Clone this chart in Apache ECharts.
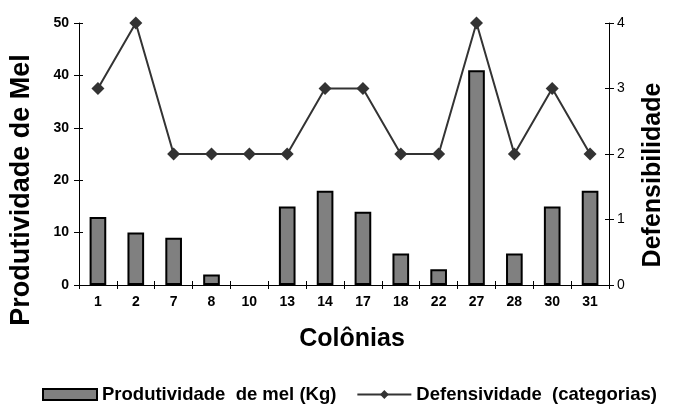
<!DOCTYPE html>
<html><head><meta charset="utf-8">
<script src="https://cdn.jsdelivr.net/npm/echarts@6/dist/echarts.min.js"></script>
<style>html,body{margin:0;padding:0;background:#fff}#c{width:674px;height:406px}</style>
</head><body><div id="c"></div>
<script>
const colonias = ['1','2','7','8','10','13','14','17','18','22','27','28','30','31'];
const produtividade = [13,10,9,2,0,15,18,14,6,3,41,6,15,18];
const defensividade = [3,4,2,2,2,2,3,3,2,2,4,2,3,2];

const chart = echarts.init(document.getElementById('c'));
const fam = '"Liberation Sans", Arial, sans-serif';
const tickOnly = (extra) => Object.assign({
  axisLine: {show: false}, axisLabel: {show: false}, splitLine: {show: false},
  axisTick: {show: true, inside: true, length: 4, lineStyle: {color: '#000'}}
}, extra);
chart.setOption({
  animation: false,
  textStyle: {fontFamily: fam},
  grid: {left: 78, right: 56, top: 23, bottom: 121},
  legend: {
    bottom: 2, left: 42, width: 640, padding: 0, itemGap: 20, itemWidth: 54, itemHeight: 11,
    textStyle: {fontFamily: fam, fontWeight: 'bold', fontSize: 18.5, color: '#000'},
    data: [
      {name: 'Produtividade  de mel (Kg)', icon: 'rect'},
      {name: 'Defensividade  (categorias)'}
    ]
  },
  xAxis: [
    {
      type: 'category', data: colonias,
      name: 'Colônias', nameLocation: 'middle', nameGap: 42,
      nameTextStyle: {fontSize: 25, fontWeight: 'bold', color: '#000', fontFamily: fam, padding: [0, 0, 0, 16]},
      axisLine: {lineStyle: {color: '#000', width: 1}},
      axisTick: {show: true, inside: false, length: 4, lineStyle: {color: '#000'}},
      axisLabel: {color: '#000', fontWeight: 'bold', fontSize: 14, margin: 10, fontFamily: fam}
    },
    tickOnly({type: 'category', data: colonias, position: 'bottom'})
  ],
  yAxis: [
    {
      type: 'value', min: 0, max: 50, interval: 10, position: 'left',
      name: 'Produtividade de Mel', nameLocation: 'middle', nameGap: 44, nameRotate: 90,
      nameTextStyle: {fontSize: 27, fontWeight: 'bold', color: '#000', fontFamily: fam, padding: [0, 72, 0, 0]},
      axisLine: {show: true, lineStyle: {color: '#000'}},
      axisTick: {show: true, length: 5, lineStyle: {color: '#000'}},
      axisLabel: {color: '#000', fontWeight: 'bold', fontSize: 14, margin: 10, fontFamily: fam},
      splitLine: {show: false}
    },
    {
      type: 'value', min: 0, max: 4, interval: 1, position: 'right',
      name: 'Defensibilidade', nameLocation: 'middle', nameGap: 32, nameRotate: 90,
      nameTextStyle: {fontSize: 25, fontWeight: 'bold', color: '#000', fontFamily: fam, padding: [0, 42, 0, 0]},
      axisLine: {show: true, lineStyle: {color: '#000'}},
      axisTick: {show: true, length: 5, lineStyle: {color: '#000'}},
      axisLabel: {color: '#000', fontSize: 14, margin: 8, fontFamily: fam},
      splitLine: {show: false}
    },
    tickOnly({type: 'value', min: 0, max: 50, interval: 10, position: 'left'}),
    tickOnly({type: 'value', min: 0, max: 4, interval: 1, position: 'right'})
  ],
  series: [
    {
      name: 'Produtividade  de mel (Kg)', type: 'bar', yAxisIndex: 0, xAxisIndex: 0,
      data: produtividade.map(v => v === 0 ? {value: v, itemStyle: {borderWidth: 0}} : v),
      barWidth: '44%',
      itemStyle: {color: '#808080', borderColor: '#000', borderWidth: 2}
    },
    {
      name: 'Defensividade  (categorias)', type: 'line', yAxisIndex: 1, xAxisIndex: 0,
      data: defensividade, symbol: 'diamond', symbolSize: 13,
      lineStyle: {color: '#333', width: 2},
      itemStyle: {color: '#333'}
    }
  ]
});
</script></body></html>
